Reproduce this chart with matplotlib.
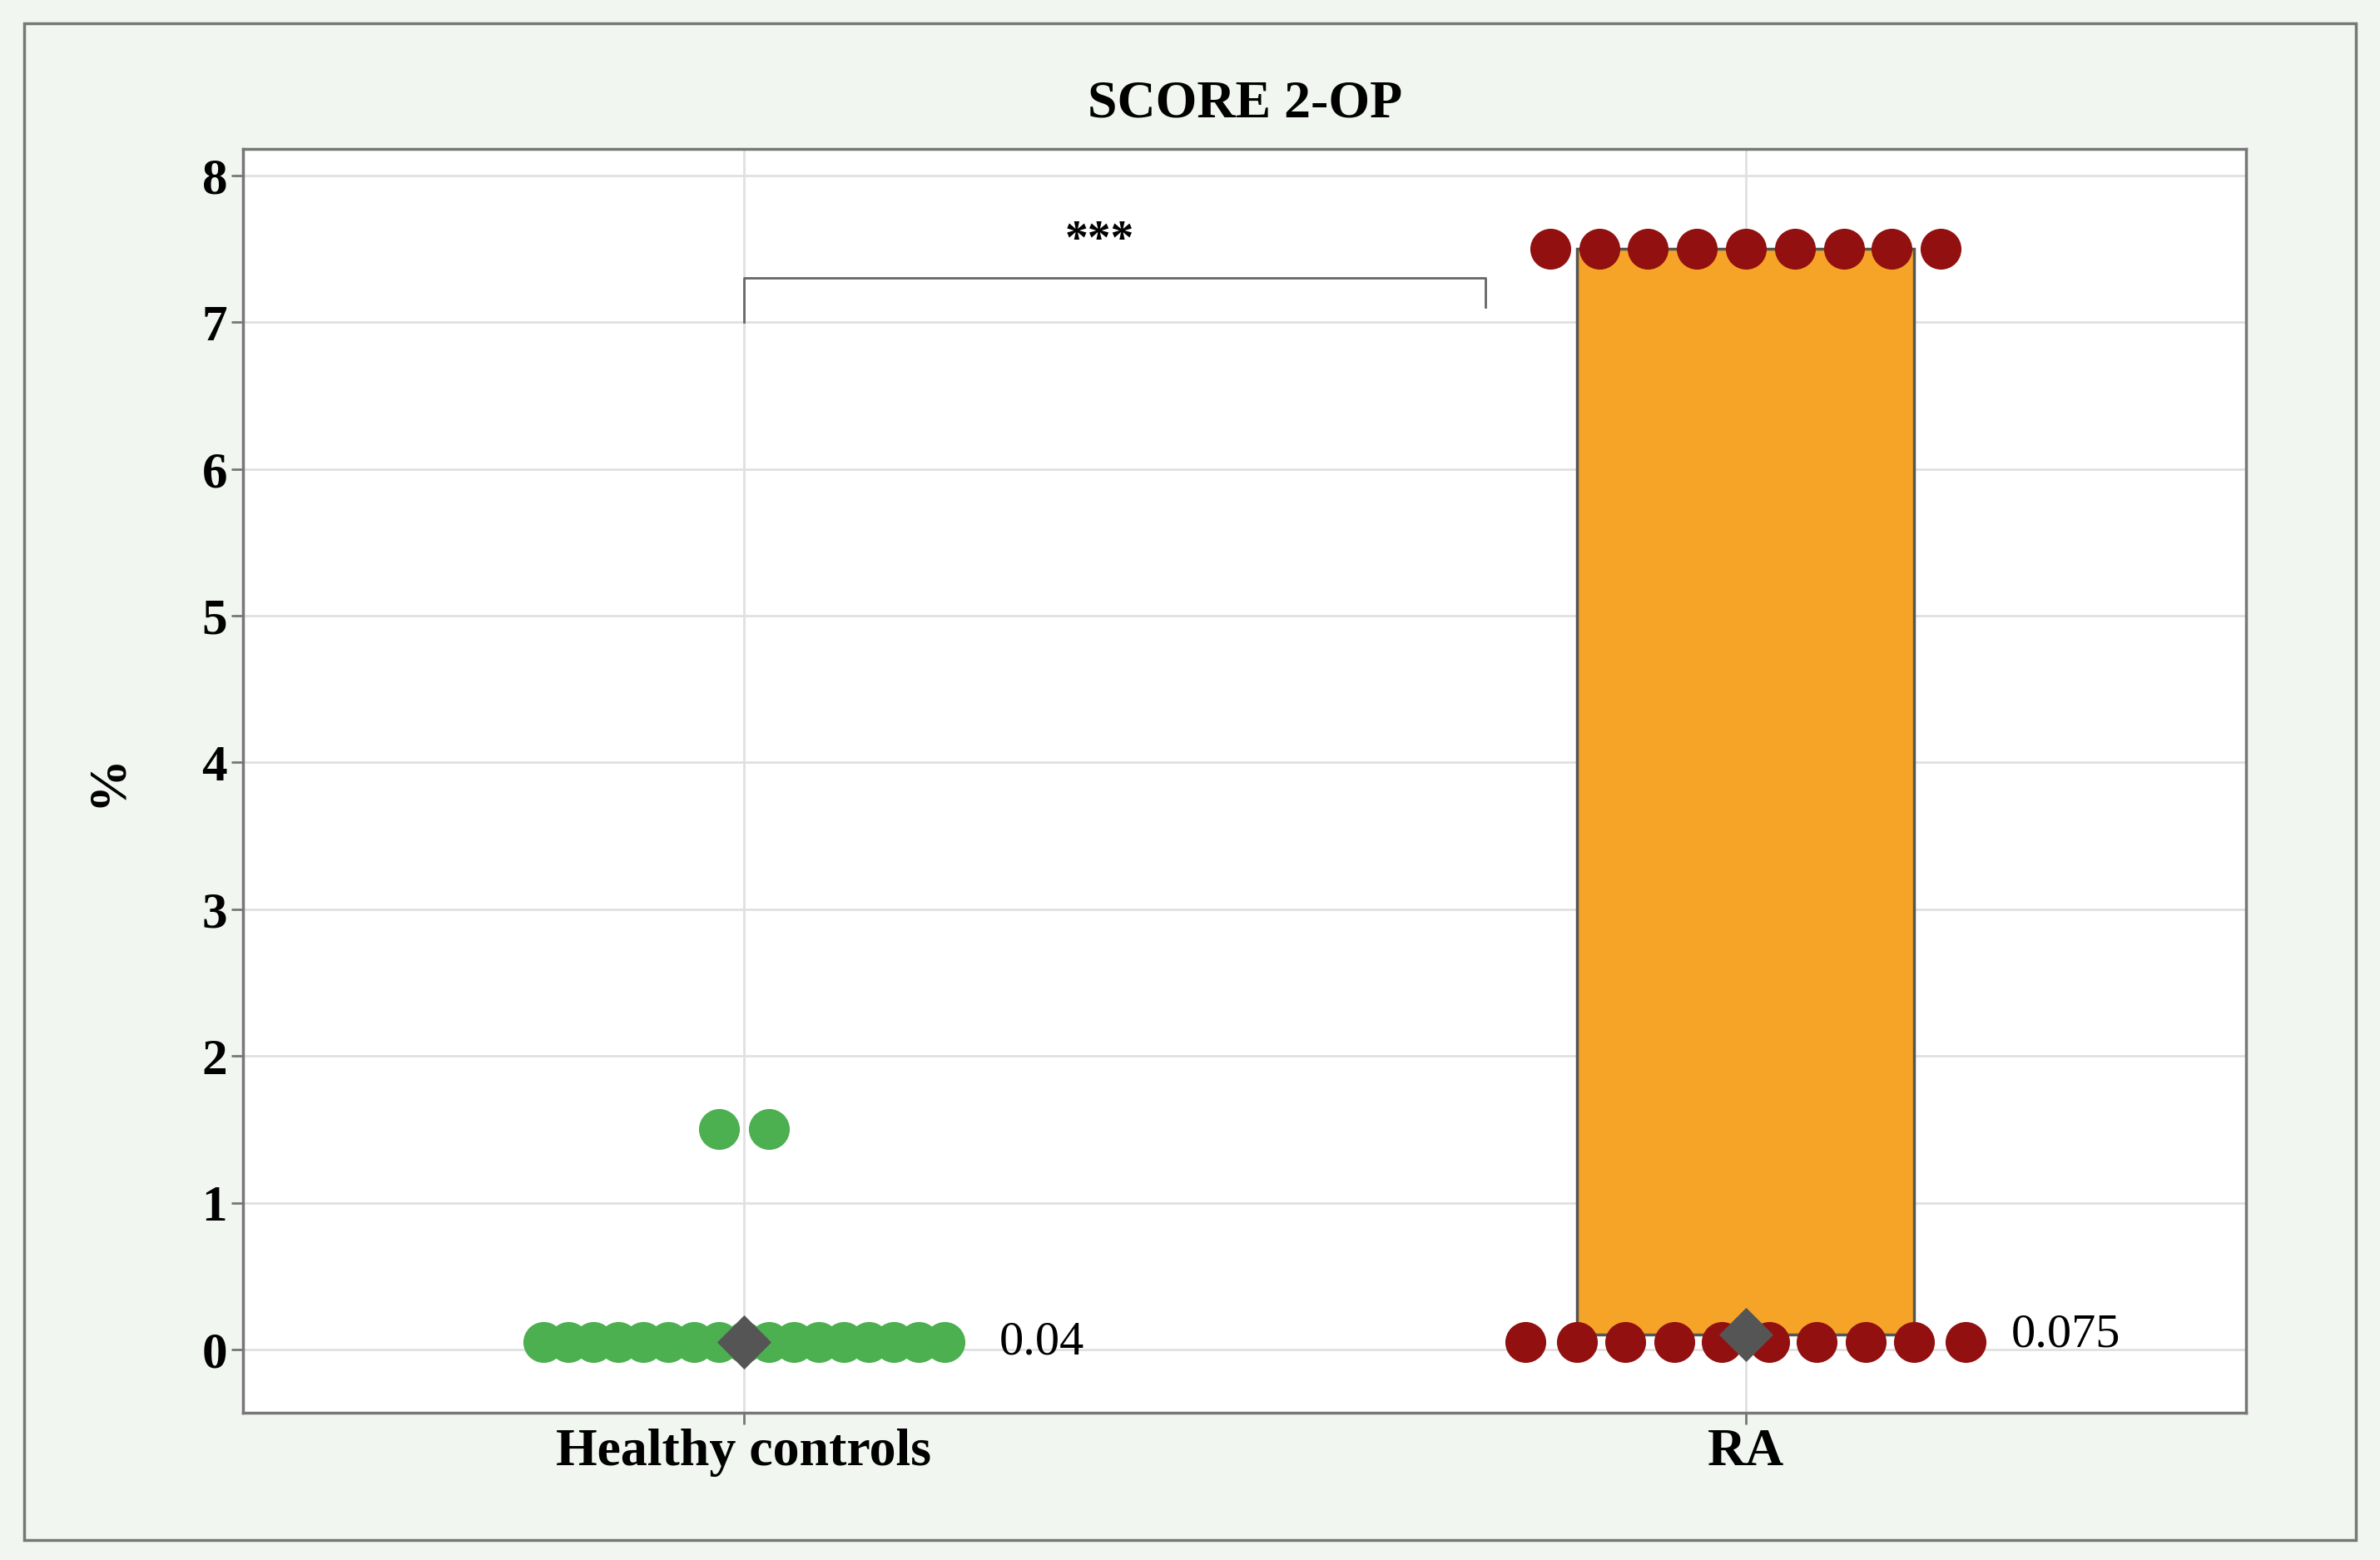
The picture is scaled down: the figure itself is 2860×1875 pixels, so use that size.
import matplotlib
matplotlib.use("Agg")
import matplotlib.pyplot as plt
from matplotlib.patches import Rectangle

categories = ["Healthy controls", "RA"]
hc_offsets = [-0.2,-0.175,-0.15,-0.125,-0.1,-0.075,-0.05,-0.025,0.0,0.025,0.05,0.075,0.1,0.125,0.15,0.175,0.2]
hc_values = [0.05]*17
hc_high_offsets = [-0.025, 0.025]
hc_high_values = [1.5, 1.5]
ra_top_offsets = [-0.195,-0.146,-0.098,-0.049,0.0,0.049,0.098,0.146,0.195]
ra_top_values = [7.5]*9
ra_bot_offsets = [-0.22,-0.168,-0.12,-0.071,-0.024,0.024,0.071,0.12,0.168,0.22]
ra_bot_values = [0.05]*10
box_q1 = [None, 0.1]
box_q3 = [None, 7.5]
means = [0.05, 0.1]
mean_labels = ["0.04", "0.075"]

serif = "Liberation Serif"
fig = plt.figure(figsize=(28.6, 18.75), dpi=100)
fig.patch.set_facecolor("#f1f7f0")
fig.add_artist(Rectangle((0.01, 0.013), 0.98, 0.972, transform=fig.transFigure,
                         fill=False, edgecolor="#777777", lw=2.5))
ax = fig.add_axes([160/1568, 1-930/1027, (1480-160)/1568, (930-98)/1027])
ax.set_facecolor("white")
ax.set_xlim(-0.5, 1.5)
ax.set_ylim(-0.43, 8.18)
ax.grid(True, color="#e0e0e0", lw=2)
ax.set_axisbelow(True)
for s in ax.spines.values():
    s.set_color("#777777"); s.set_linewidth(2.5)

ax.add_patch(Rectangle((1-0.168, box_q1[1]), 0.336, box_q3[1]-box_q1[1],
                       facecolor="#f6a427", edgecolor="#555555", lw=2.5, zorder=2))
ms = 1250
ax.scatter([0+o for o in hc_offsets], hc_values, s=ms, color="#4caf50", zorder=3, lw=0)
ax.scatter([0+o for o in hc_high_offsets], hc_high_values, s=ms, color="#4caf50", zorder=3, lw=0)
ax.scatter([1+o for o in ra_top_offsets], ra_top_values, s=ms, color="#921010", zorder=3, lw=0)
ax.scatter([1+o for o in ra_bot_offsets], ra_bot_values, s=ms, color="#921010", zorder=3, lw=0)
ax.scatter([0, 1], means, marker="D", s=1100, color="#555555", zorder=4, lw=0)
ax.text(0.255, means[0], mean_labels[0], fontsize=42, family=serif, va="center")
ax.text(1.265, means[1], mean_labels[1], fontsize=42, family=serif, va="center")

ax.plot([0, 0, 0.74, 0.74], [7.0, 7.3, 7.3, 7.1], color="#666666", lw=2)
ax.text(0.355, 7.55, "***", fontsize=40, family=serif, ha="center", va="center", weight="bold")

ax.set_xticks([0, 1])
ax.set_xticklabels(categories, fontsize=46, family=serif, weight="bold")
ax.set_yticks(range(0, 9))
ax.set_yticklabels([str(i) for i in range(9)], fontsize=44, family=serif, weight="bold")
ax.tick_params(length=10, color="#777777", width=2)
ax.set_ylabel("%", fontsize=46, family=serif, weight="bold", labelpad=60)
ax.set_title("SCORE 2-OP", fontsize=46, family=serif, weight="bold", pad=28)
fig.savefig("out.png", dpi=100, facecolor=fig.get_facecolor())
